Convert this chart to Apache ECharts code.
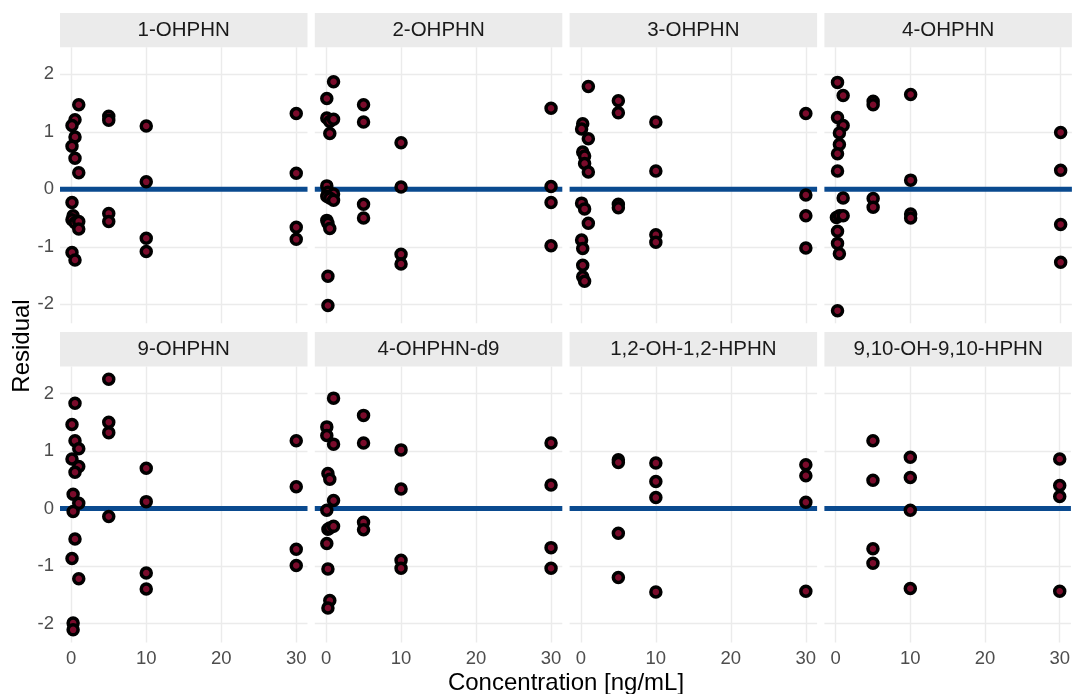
<!DOCTYPE html>
<html>
<head>
<meta charset="utf-8">
<script src="https://cdn.jsdelivr.net/npm/echarts@6/dist/echarts.min.js"></script>
<style>
  html, body { margin: 0; padding: 0; background: #fff; }
  #chart { width: 1073px; height: 694px; }
</style>
</head>
<body>
<div id="chart"></div>
<script>
// Facet titles (row-major order)
const panelNames = ['1-OHPHN', '2-OHPHN', '3-OHPHN', '4-OHPHN',
                    '9-OHPHN', '4-OHPHN-d9', '1,2-OH-1,2-HPHN', '9,10-OH-9,10-HPHN'];

// [concentration ng/mL, residual] per analyte
const ohphn1 = [[1,1.47],[0.5,1.21],[0.1,1.11],[0.5,0.91],[0.1,0.75],[0.5,0.54],[1,0.29],
  [0.1,-0.23],[0.25,-0.46],[0.1,-0.53],[0.5,-0.58],[1,-0.56],[1,-0.69],[0.1,-1.10],[0.5,-1.23],
  [5,1.27],[5,1.20],[5,-0.42],[5,-0.56],[10,1.10],[10,0.13],[10,-0.85],[10,-1.08],
  [30,1.32],[30,0.28],[30,-0.66],[30,-0.87]];
const ohphn2 = [[1,1.87],[0.1,1.58],[0.1,1.24],[0.5,1.18],[1,1.22],[0.5,0.97],[0.1,0.06],
  [0.25,-0.05],[1,-0.08],[0.1,-0.12],[0.5,-0.15],[1,-0.19],[0.1,-0.54],[0.25,-0.59],[0.5,-0.68],
  [0.25,-1.51],[0.25,-2.02],[5,1.47],[5,1.17],[5,-0.26],[5,-0.50],[10,0.81],[10,0.04],
  [10,-1.13],[10,-1.30],[30,1.41],[30,0.05],[30,-0.23],[30,-0.98]];
const ohphn3 = [[1,1.79],[0.25,1.14],[0.1,1.05],[1,0.88],[0.25,0.65],[0.5,0.58],[0.5,0.45],
  [1,0.30],[0.1,-0.24],[0.5,-0.34],[1,-0.59],[0.1,-0.88],[0.25,-1.03],[0.25,-1.32],[0.25,-1.52],
  [0.5,-1.60],[5,1.54],[5,1.33],[5,-0.26],[5,-0.32],[10,1.17],[10,0.32],[10,-0.79],[10,-0.92],
  [30,1.32],[30,-0.10],[30,-0.46],[30,-1.02]];
const ohphn4 = [[0.25,1.86],[1,1.63],[0.25,1.25],[1,1.11],[0.5,0.98],[0.5,0.78],[0.25,0.62],
  [0.25,0.32],[1,-0.15],[0.1,-0.49],[0.5,-0.46],[1,-0.46],[0.25,-0.73],[0.25,-0.94],[0.5,-1.12],
  [0.25,-2.11],[5,1.53],[5,1.47],[5,-0.16],[5,-0.31],[10,1.65],[10,0.16],[10,-0.43],[10,-0.50],
  [30,0.99],[30,0.33],[30,-0.61],[30,-1.27]];
const ohphn9 = [[0.5,1.83],[0.1,1.46],[0.5,1.18],[1,1.04],[0.1,0.86],[1,0.73],[0.5,0.63],
  [0.25,0.25],[1,0.09],[0.25,-0.05],[0.5,-0.53],[0.1,-0.87],[1,-1.22],[0.25,-1.99],[0.25,-2.11],
  [5,2.25],[5,1.50],[5,1.32],[5,-0.14],[10,0.70],[10,0.12],[10,-1.12],[10,-1.40],
  [30,1.18],[30,0.38],[30,-0.71],[30,-0.99]];
const ohphn4d9 = [[1,1.92],[0.1,1.42],[0.1,1.27],[1,1.12],[0.25,0.61],[0.5,0.51],[1,0.14],
  [0.1,-0.03],[0.25,-0.36],[0.5,-0.34],[1,-0.31],[0.1,-0.61],[0.25,-1.05],[0.5,-1.60],[0.25,-1.73],
  [5,1.62],[5,1.14],[5,-0.24],[5,-0.37],[10,1.02],[10,0.34],[10,-0.90],[10,-1.04],
  [30,1.14],[30,0.41],[30,-0.68],[30,-1.04]];
const dihydro12 = [[5,0.85],[5,0.80],[5,-0.43],[5,-1.20],[10,0.79],[10,0.47],[10,0.19],[10,-1.45],
  [30,0.76],[30,0.57],[30,0.11],[30,-1.44]];
const dihydro910 = [[5,1.18],[5,0.49],[5,-0.70],[5,-0.95],[10,0.89],[10,0.54],[10,-0.03],[10,-1.39],
  [30,0.86],[30,0.40],[30,0.21],[30,-1.44]];

const panelData = [ohphn1, ohphn2, ohphn3, ohphn4, ohphn9, ohphn4d9, dihydro12, dihydro910];

// Axis ticks and limits
const xTicks = [0, 10, 20, 30];
const yTicks = [-2, -1, 0, 1, 2];
const xRange = [-1.5, 31.5];
const yRange = [-2.33, 2.47];
const refLevel = 0;

// Layout
const nCol = 4;
const panelLeft = 60, panelW = 247.5, panelGap = 7.3;
const rowTops = [47.3, 366.5];
const panelH = 276;
const stripH = 34.4;

const FONT = '"Liberation Sans", Arial, Helvetica, sans-serif';

const grids = [], xAxes = [], yAxes = [], series = [], graphics = [];

panelData.forEach((pts, i) => {
  const row = Math.floor(i / nCol), col = i % nCol;
  const left = panelLeft + col * (panelW + panelGap);
  const top = rowTops[row];
  grids.push({ left: left, top: top, width: panelW, height: panelH, containLabel: false });

  xAxes.push({
    gridIndex: i, type: 'value', min: xRange[0], max: xRange[1],
    axisLine: { show: false },
    axisTick: { show: false, customValues: xTicks },
    axisLabel: { show: row === 1, customValues: xTicks, color: '#4D4D4D',
                 fontSize: 18.5, fontFamily: FONT, margin: 7 },
    splitLine: { show: true, lineStyle: { color: '#EBEBEB', width: 1.4 } }
  });
  yAxes.push({
    gridIndex: i, type: 'value', min: yRange[0], max: yRange[1],
    axisLine: { show: false },
    axisTick: { show: false, customValues: yTicks },
    axisLabel: { show: col === 0, customValues: yTicks, color: '#4D4D4D',
                 fontSize: 18.5, fontFamily: FONT, margin: 6 },
    splitLine: { show: true, lineStyle: { color: '#EBEBEB', width: 1.4 } }
  });

  // zero reference line under the points
  series.push({
    type: 'line', xAxisIndex: i, yAxisIndex: i, z: 2,
    data: [[xRange[0], refLevel], [xRange[1], refLevel]],
    symbol: 'none', silent: true,
    lineStyle: { color: '#0A4A8F', width: 5 }
  });
  series.push({
    type: 'scatter', xAxisIndex: i, yAxisIndex: i, z: 3,
    data: pts, symbol: 'circle', symbolSize: 10,
    itemStyle: { color: '#7A0B2B', borderColor: '#000000', borderWidth: 3.5, opacity: 1 }
  });

  // facet strip
  graphics.push({
    type: 'group', left: left, top: top - stripH,
    children: [
      { type: 'rect', shape: { x: 0, y: 0, width: panelW, height: stripH },
        style: { fill: '#EBEBEB' } },
      { type: 'text', x: panelW / 2, y: stripH / 2,
        style: { text: panelNames[i], fill: '#1A1A1A', font: '20.5px ' + FONT,
                 textAlign: 'center', textVerticalAlign: 'middle' } }
    ]
  });
});

// axis titles
graphics.push({
  type: 'text', x: 22, y: 346, rotation: Math.PI / 2,
  style: { text: 'Residual', fill: '#000', font: '24px ' + FONT,
           textAlign: 'center', textVerticalAlign: 'middle' }
});
graphics.push({
  type: 'text', x: 566, y: 683,
  style: { text: 'Concentration [ng/mL]', fill: '#000', font: '24px ' + FONT,
           textAlign: 'center', textVerticalAlign: 'middle' }
});

const chart = echarts.init(document.getElementById('chart'), null, { renderer: 'canvas' });
chart.setOption({
  animation: false,
  backgroundColor: '#ffffff',
  grid: grids,
  xAxis: xAxes,
  yAxis: yAxes,
  series: series,
  graphic: graphics
});
</script>
</body>
</html>
